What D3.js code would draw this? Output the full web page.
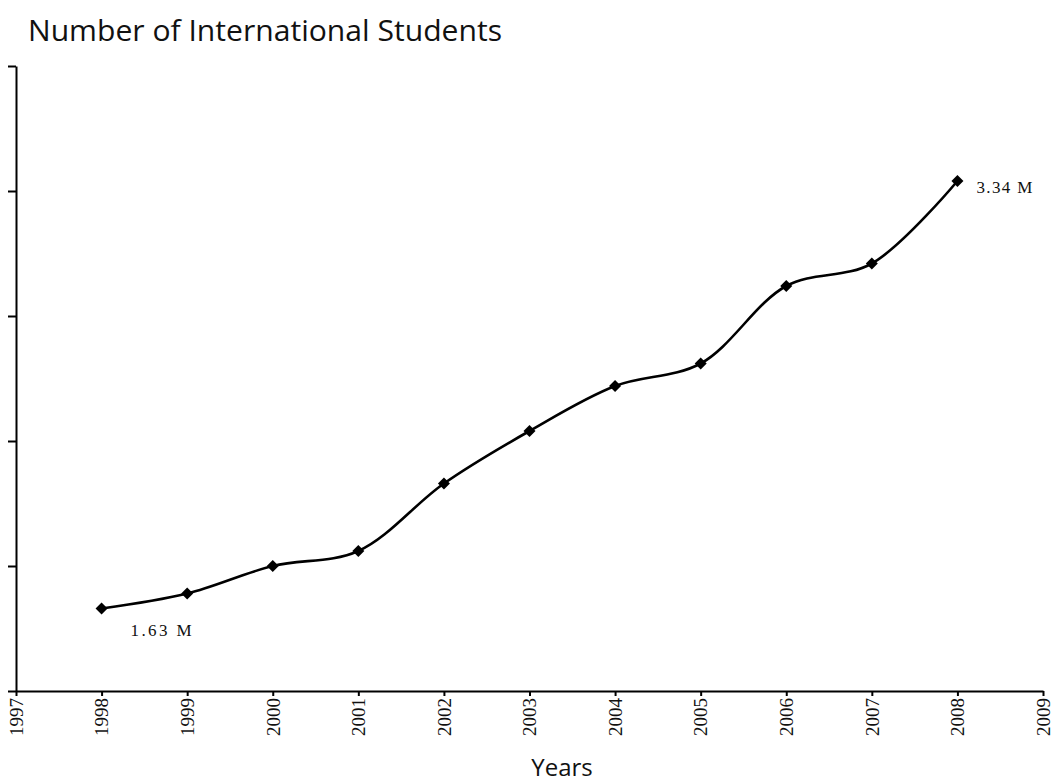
<!DOCTYPE html>
<html><head><meta charset="utf-8">
<script src="https://cdn.jsdelivr.net/npm/d3@7"></script>
<style>body{margin:0;background:#fff}svg{display:block}</style>
</head><body>
<svg id="c" width="1053" height="784"></svg>
<script>
const years = [1998,1999,2000,2001,2002,2003,2004,2005,2006,2007,2008];
const students = [1.63,1.69,1.80,1.86,2.13,2.34,2.52,2.61,2.92,3.01,3.34];
const xTicks = [1997,1998,1999,2000,2001,2002,2003,2004,2005,2006,2007,2008,2009];
const yTicks = [1.3,1.8,2.3,2.8,3.3,3.8];
const pointLabels = [{year:1998, text:"1.63 M"},{year:2008, text:"3.34 M"}];
const titleText = "Number of International Students";
const xTitle = "Years";

const svg = d3.select("#c");
const x = d3.scaleLinear().domain([1997,2009]).range([16,1043]);
const y = d3.scaleLinear().domain([1.3,3.8]).range([691,66]);

svg.append("text").attr("x",28).attr("y",41)
  .attr("font-family","Open Sans").attr("font-size",29).attr("fill","#111")
  .attr("textLength",474).attr("lengthAdjust","spacingAndGlyphs")
  .text(titleText);

const xa = svg.append("g").attr("transform",`translate(0,${y(1.3)})`)
  .call(d3.axisBottom(x).tickValues(xTicks).tickFormat(d3.format("d")).tickSize(5).tickSizeOuter(0));
xa.select(".domain").attr("stroke","#000").attr("stroke-width",2);
xa.selectAll(".tick line").attr("stroke","#000").attr("stroke-width",2);
xa.selectAll(".tick text")
  .attr("font-family","Liberation Serif").attr("font-size",19).attr("fill","#111")
  .attr("transform","rotate(-90)").attr("text-anchor","end")
  .attr("x",-7).attr("y",0).attr("dy","0.33em");

const ya = svg.append("g").attr("transform",`translate(${x(1997)},0)`)
  .call(d3.axisLeft(y).tickValues(yTicks).tickFormat("").tickSize(8).tickSizeOuter(0));
ya.select(".domain").attr("stroke","#000").attr("stroke-width",2);
ya.selectAll(".tick line").attr("stroke","#000").attr("stroke-width",2);

const pts = years.map((d,i)=>[d,students[i]]);
svg.append("path").datum(pts)
  .attr("fill","none").attr("stroke","#000").attr("stroke-width",2.6)
  .attr("d", d3.line().x(d=>x(d[0])).y(d=>y(d[1])).curve(d3.curveCatmullRom.alpha(0.5)));

svg.selectAll(".m").data(pts).join("path")
  .attr("transform",d=>`translate(${x(d[0])},${y(d[1])}) rotate(45)`)
  .attr("d", d3.symbol().type(d3.symbolSquare).size(72))
  .attr("fill","#000");

const lab = svg.append("g").attr("font-family","Liberation Serif").attr("font-size",17).attr("fill","#111");
lab.append("text").attr("x",x(pointLabels[0].year)+29).attr("y",y(students[0])+27)
  .attr("textLength",61).attr("lengthAdjust","spacing").text(pointLabels[0].text);
lab.append("text").attr("x",x(pointLabels[1].year)+19).attr("y",y(students[students.length-1])+12)
  .attr("textLength",56).attr("lengthAdjust","spacing").text(pointLabels[1].text);

svg.append("text").attr("x",562).attr("y",776).attr("text-anchor","middle")
  .attr("font-family","Open Sans").attr("font-size",24).attr("fill","#111")
  .text(xTitle);
</script>
</body></html>
